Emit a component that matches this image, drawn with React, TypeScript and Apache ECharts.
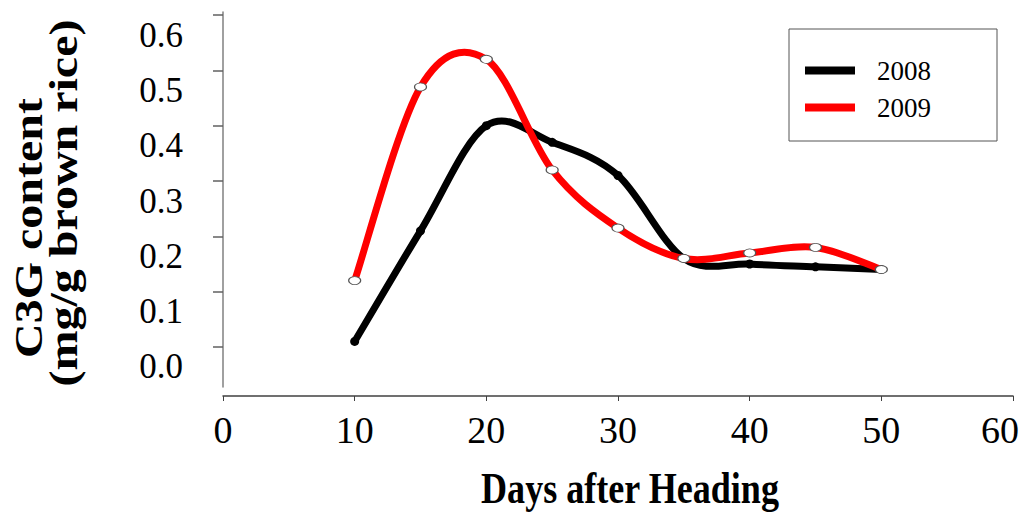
import React, { useEffect, useRef } from "react";
import * as echarts from "echarts";

const days = [10, 15, 20, 25, 30, 35, 40, 45, 50];
const c3g2008 = [0.01, 0.21, 0.4, 0.37, 0.31, 0.16, 0.15, 0.145, 0.14];
const c3g2009 = [0.12, 0.47, 0.52, 0.32, 0.215, 0.16, 0.17, 0.18, 0.14];
const yTicks = [0, 0.1, 0.2, 0.3, 0.4, 0.5, 0.6];
const seriesNames = ["2008", "2009"];
const xTitle = "Days after Heading";
const yTitle1 = "C3G content";
const yTitle2 = "(mg/g brown rice)";

const FONT = '"Liberation Serif", "Times New Roman", serif';

// Excel-like smoothed curve (Catmull-Rom, tension 1/6) through pixel points
function smoothPath(pts: number[][]): string {
  let d = `M${pts[0][0]},${pts[0][1]}`;
  for (let i = 0; i < pts.length - 1; i++) {
    const p0 = pts[i - 1] || pts[i];
    const p1 = pts[i];
    const p2 = pts[i + 1];
    const p3 = pts[i + 2] || pts[i + 1];
    const c1x = p1[0] + (p2[0] - p0[0]) / 6;
    const c1y = p1[1] + (p2[1] - p0[1]) / 6;
    const c2x = p2[0] - (p3[0] - p1[0]) / 6;
    const c2y = p2[1] - (p3[1] - p1[1]) / 6;
    d += ` C${c1x},${c1y} ${c2x},${c2y} ${p2[0]},${p2[1]}`;
  }
  return d;
}

function curveSeries(name: string, values: number[], color: string, z: number) {
  return {
    name,
    type: "custom",
    coordinateSystem: "cartesian2d",
    xAxisIndex: 0,
    yAxisIndex: 0,
    data: [[days[0], values[0]]],
    z,
    silent: true,
    itemStyle: { color },
    renderItem: (_params: any, api: any) => {
      const pts = days.map((d, i) => api.coord([d, values[i]]));
      return {
        type: "path",
        shape: { pathData: smoothPath(pts) },
        style: { fill: "none", stroke: color, lineWidth: 7, lineCap: "butt", lineJoin: "round" },
      };
    },
  };
}

export default function App() {
  const ref = useRef<HTMLDivElement>(null);
  useEffect(() => {
    document.body.style.margin = "0";
    const chart = echarts.init(ref.current!, null, { renderer: "svg" });
    const option: any = {
      animation: false,
      backgroundColor: "#fff",
      grid: [
        { left: 223, width: 790, top: 12, height: 375, outerBoundsMode: "none" },
        { left: 223, width: 790, top: 12, height: 384, outerBoundsMode: "none" },
      ],
      xAxis: [
        { type: "value", gridIndex: 0, min: 0, max: 60, show: false },
        {
          type: "value",
          gridIndex: 1,
          min: 0,
          max: 60,
          interval: 10,
          axisLine: { show: true, lineStyle: { color: "#404040", width: 1.5 } },
          axisTick: { show: true, length: 5, lineStyle: { color: "#404040", width: 1 } },
          axisLabel: {
            color: "#000",
            fontFamily: FONT,
            fontSize: 38,
            margin: 15,
            formatter: (v: number) => (v === 60 ? `{r|${v}}` : `${v}`),
            rich: { r: { color: "#000", fontFamily: FONT, fontSize: 38, padding: [0, 26, 0, 0] } },
          },
          splitLine: { show: false },
        },
      ],
      yAxis: [
        {
          type: "value",
          gridIndex: 0,
          min: -0.0723,
          max: 0.6055,
          axisLine: { show: true, lineStyle: { color: "#808080", width: 1.5 } },
          axisTick: {
            show: true,
            length: 10,
            customValues: yTicks,
            lineStyle: { color: "#606060", width: 1.5 },
          },
          axisLabel: {
            customValues: yTicks,
            formatter: (v: number) => v.toFixed(1),
            color: "#000",
            fontFamily: FONT,
            fontSize: 35,
            margin: 40,
            verticalAlign: "top",
            lineHeight: 40,
          },
          splitLine: { show: false },
        },
        { type: "value", gridIndex: 1, min: 0, max: 1, show: false },
      ],
      legend: {
        orient: "vertical",
        left: 789,
        top: 29,
        padding: [28, 66, 20, 16],
        itemWidth: 50,
        itemHeight: 8,
        itemGap: 10,
        icon: "rect",
        selectedMode: false,
        borderColor: "#555",
        borderWidth: 1,
        backgroundColor: "#fff",
        textStyle: { color: "#000", fontFamily: FONT, fontSize: 27, padding: [0, 0, 0, 17] },
        data: [
          { name: seriesNames[0], itemStyle: { color: "#000" } },
          { name: seriesNames[1], itemStyle: { color: "#ff0000", borderWidth: 0 } },
        ],
      },
      series: [
        curveSeries(seriesNames[0], c3g2008, "#000", 2),
        {
          name: seriesNames[0] + " points",
          type: "scatter",
          xAxisIndex: 0,
          yAxisIndex: 0,
          data: days.map((d, i) => [d, c3g2008[i]]),
          symbol: "circle",
          symbolSize: 9,
          itemStyle: { color: "#000", opacity: 1 },
          z: 3,
        },
        curveSeries(seriesNames[1], c3g2009, "#ff0000", 4),
        {
          name: seriesNames[1] + " points",
          type: "scatter",
          xAxisIndex: 0,
          yAxisIndex: 0,
          data: days.map((d, i) => [d, c3g2009[i]]),
          symbol: "circle",
          symbolSize: [12, 8],
          itemStyle: { color: "#fff", borderColor: "#555", borderWidth: 1, opacity: 1 },
          z: 5,
        },
      ],
      graphic: [
        {
          type: "text",
          x: 630,
          y: 488,
          scaleX: 0.82,
          style: {
            text: xTitle,
            font: `bold 44px ${FONT}`,
            fill: "#000",
            align: "center",
            verticalAlign: "middle",
          },
        },
        {
          type: "text",
          x: 29,
          y: 228,
          rotation: Math.PI / 2,
          scaleY: 0.82,
          style: {
            text: yTitle1,
            font: `bold 48px ${FONT}`,
            fill: "#000",
            align: "center",
            verticalAlign: "middle",
          },
        },
        {
          type: "text",
          x: 64,
          y: 203,
          rotation: Math.PI / 2,
          scaleY: 0.82,
          style: {
            text: yTitle2,
            font: `bold 48px ${FONT}`,
            fill: "#000",
            align: "center",
            verticalAlign: "middle",
          },
        },
      ],
    };
    chart.setOption(option);
    return () => chart.dispose();
  }, []);
  return <div ref={ref} style={{ width: 1027, height: 512 }} />;
}
